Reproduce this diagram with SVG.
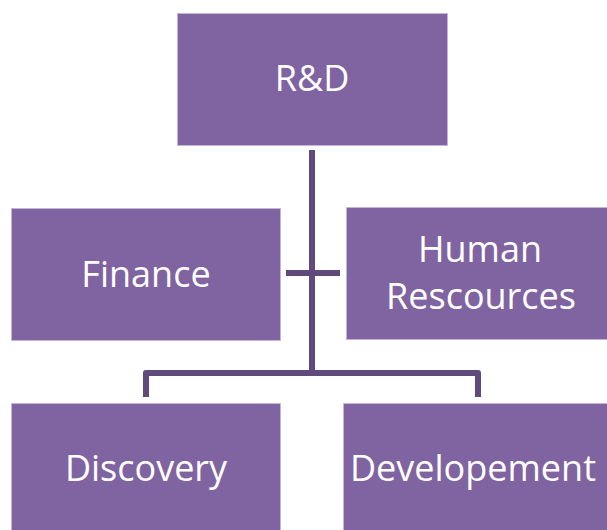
<svg xmlns="http://www.w3.org/2000/svg" width="607" height="530" viewBox="0 0 607 530">
  <style>
    .box { fill: #8064a2; stroke: #c3b4d8; stroke-width: 1; }
    .label { fill: #ffffff; font-family: "Open Sans", "Noto Sans", "DejaVu Sans", sans-serif; font-size: 36px; text-anchor: middle; }
    .link { fill: none; stroke: #604a7b; stroke-width: 6; stroke-linejoin: round; }
  </style>
  <rect width="607" height="530" fill="#ffffff"/>

  <!-- connectors -->
  <g id="connectors">
    <line class="link" x1="312" y1="150" x2="312" y2="373"/>
    <line class="link" x1="286" y1="273" x2="340" y2="273"/>
    <path class="link" d="M146 397 V373 H478 V397"/>
  </g>

  <g id="rd">
    <rect class="box" x="177.5" y="13.5" width="270" height="132"/>
    <text class="label" x="312" y="91">R&amp;D</text>
  </g>

  <g id="finance">
    <rect class="box" x="11.5" y="208.5" width="269" height="132"/>
    <text class="label" x="146" y="287">Finance</text>
  </g>

  <g id="human-resources">
    <rect class="box" x="346.5" y="207.5" width="270" height="132"/>
    <text class="label" x="480" y="262">Human</text>
    <text class="label" x="481" y="309">Rescources</text>
  </g>

  <g id="discovery">
    <rect class="box" x="11.5" y="403.5" width="269" height="132"/>
    <text class="label" x="146" y="481">Discovery</text>
  </g>

  <g id="development">
    <rect class="box" x="343.5" y="403.5" width="270" height="132"/>
    <text class="label" x="473" y="481">Developement</text>
  </g>
</svg>
